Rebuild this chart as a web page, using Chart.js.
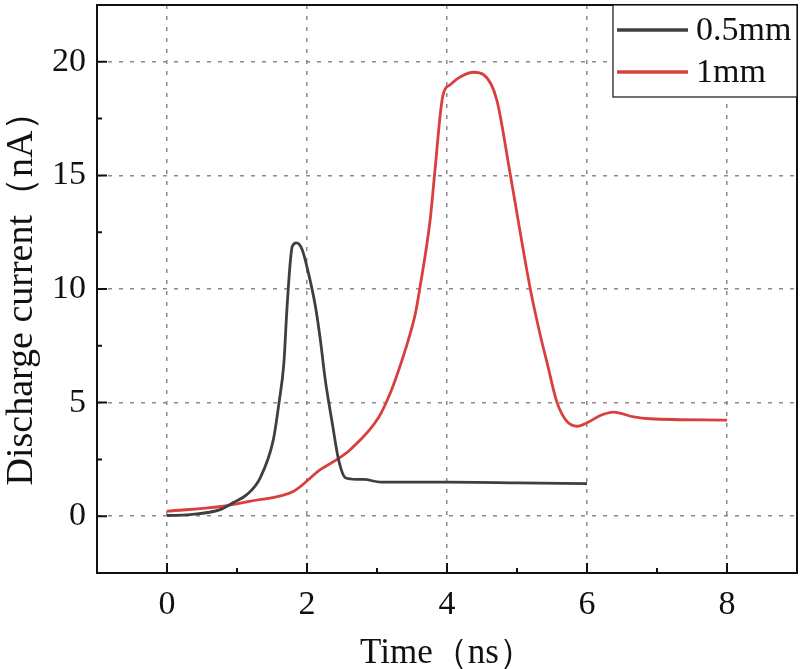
<!DOCTYPE html>
<html>
<head>
<meta charset="utf-8">
<script src="https://cdn.jsdelivr.net/npm/chart.js@4/dist/chart.umd.min.js"></script>
<style>
  html, body { margin: 0; padding: 0; background: #fff; }
  #wrap { width: 800px; height: 669px; }
</style>
</head>
<body>
<div id="wrap"><canvas id="c" width="800" height="669"></canvas></div>
<script>
// 0.5mm gap
const timeA = [0, 0.33, 0.76, 0.95, 1.14, 1.33, 1.52, 1.6, 1.67, 1.71, 1.76, 1.79, 1.85, 1.93, 2.02, 2.12, 2.19, 2.26, 2.36, 2.45, 2.55, 2.71, 2.81, 3.05, 4, 5, 6];
const currentA = [0.03, 0.07, 0.29, 0.6, 0.95, 1.68, 3.38, 4.99, 6.75, 8.95, 11.15, 11.88, 12.03, 11.74, 10.71, 9.24, 7.78, 6.02, 4.11, 2.5, 1.69, 1.62, 1.62, 1.5, 1.5, 1.47, 1.43];

// 1mm gap
const timeB = [0, 0.81, 1.19, 1.81, 2.19, 2.43, 2.62, 3.02, 3.2, 3.35, 3.45, 3.55, 3.61, 3.76, 3.82, 3.94, 4.05, 4.2, 4.38, 4.52, 4.71, 4.9, 5.19, 5.33, 5.43, 5.57, 5.71, 5.86, 6.0, 6.19, 6.38, 6.67, 6.9, 8];
const currentB = [0.22, 0.44, 0.66, 1.1, 2.05, 2.5, 2.94, 4.33, 5.5, 6.8, 7.78, 8.95, 10.0, 13.06, 14.96, 18.49, 19.0, 19.35, 19.54, 19.44, 18.34, 15.11, 10.0, 8.0, 6.75, 5.02, 4.18, 3.96, 4.11, 4.43, 4.58, 4.37, 4.29, 4.23];

const seriesNames = ['0.5mm', '1mm'];
const xTicks = [0, 2, 4, 6, 8];
const xMinor = [1, 3, 5, 7];
const yTicks = [0, 5, 10, 15, 20];
const yMinor = [2.5, 7.5, 12.5, 17.5];

const serif = "'Liberation Serif', serif";
const toPoints = (xs, ys) => xs.map((x, i) => ({ x: x, y: ys[i] }));

// frame, inward ticks and boxed legend
const framePlugin = {
  id: 'frame',
  afterDraw(chart) {
    const ctx = chart.ctx;
    const a = chart.chartArea;
    const sx = chart.scales.x, sy = chart.scales.y;
    ctx.save();
    ctx.strokeStyle = '#111';
    ctx.lineWidth = 2;
    ctx.strokeRect(a.left, a.top, a.right - a.left, a.bottom - a.top);

    ctx.beginPath();
    xTicks.forEach(v => { const p = sx.getPixelForValue(v); ctx.moveTo(p, a.bottom); ctx.lineTo(p, a.bottom - 10); });
    xMinor.forEach(v => { const p = sx.getPixelForValue(v); ctx.moveTo(p, a.bottom); ctx.lineTo(p, a.bottom - 5); });
    yTicks.forEach(v => { const p = sy.getPixelForValue(v); ctx.moveTo(a.left, p); ctx.lineTo(a.left + 10, p); });
    yMinor.forEach(v => { const p = sy.getPixelForValue(v); ctx.moveTo(a.left, p); ctx.lineTo(a.left + 5, p); });
    ctx.stroke();

    // legend
    const bx = 613, by = a.top, bw = a.right - 613, bh = 92;
    ctx.fillStyle = '#fff';
    ctx.fillRect(bx, by, bw, bh);
    ctx.lineWidth = 1.2;
    ctx.strokeStyle = '#111';
    ctx.strokeRect(bx, by, bw, bh);
    ctx.font = '34px ' + serif;
    ctx.textBaseline = 'middle';
    chart.data.datasets.forEach((ds, i) => {
      const y = by + 25 + i * 42;
      ctx.strokeStyle = ds.borderColor;
      ctx.lineWidth = 3.5;
      ctx.beginPath();
      ctx.moveTo(617, y);
      ctx.lineTo(688, y);
      ctx.stroke();
      ctx.fillStyle = '#111';
      ctx.fillText(ds.label, 696, y + 1);
    });
    ctx.restore();
  }
};

new Chart(document.getElementById('c'), {
  type: 'line',
  data: {
    datasets: [
      {
        label: seriesNames[0],
        data: toPoints(timeA, currentA),
        borderColor: '#3f3f3f',
        borderWidth: 2.8,
        pointRadius: 0,
        cubicInterpolationMode: 'monotone',
        fill: false
      },
      {
        label: seriesNames[1],
        data: toPoints(timeB, currentB),
        borderColor: '#d8403e',
        borderWidth: 2.8,
        pointRadius: 0,
        cubicInterpolationMode: 'monotone',
        fill: false
      }
    ]
  },
  options: {
    responsive: false,
    animation: false,
    layout: { padding: { left: 0, top: 5, right: 3, bottom: 0 } },
    plugins: {
      legend: { display: false },
      tooltip: { enabled: false }
    },
    scales: {
      x: {
        type: 'linear',
        min: -1,
        max: 9,
        afterBuildTicks: s => { s.ticks = xTicks.map(v => ({ value: v })); },
        afterFit: s => { s.height = 96; s.paddingLeft = 0; s.paddingRight = 0; },
        grid: { color: '#8a8a8a', lineWidth: 1.5, drawTicks: false },
        border: { display: false, dash: [4, 7] },
        ticks: { color: '#111', padding: 12, font: { family: serif, size: 34 } },
        title: { display: true, text: 'Time（ns）', color: '#111', padding: 0, font: { family: serif, size: 35, lineHeight: 0.85 } }
      },
      y: {
        min: -2.5,
        max: 22.5,
        afterBuildTicks: s => { s.ticks = yTicks.map(v => ({ value: v })); },
        afterFit: s => { s.width = 97; s.paddingTop = 0; s.paddingBottom = 0; },
        grid: { color: '#8a8a8a', lineWidth: 1.5, drawTicks: false },
        border: { display: false, dash: [4, 7] },
        ticks: { color: '#111', padding: 11, font: { family: serif, size: 34 } },
        title: { display: true, text: 'Discharge current（nA）', color: '#111', padding: 0, font: { family: serif, size: 38, lineHeight: 1.15 } }
      }
    }
  },
  plugins: [framePlugin]
});
</script>
</body>
</html>
